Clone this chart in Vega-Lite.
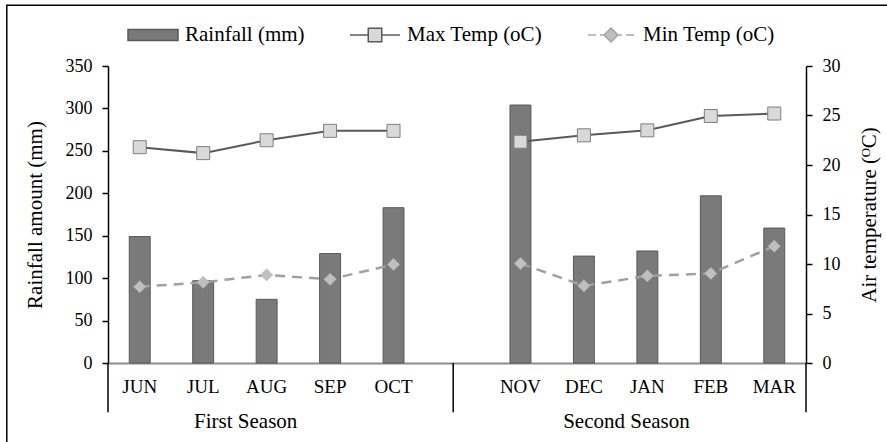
{
  "$schema": "https://vega.github.io/schema/vega-lite/v6.json",
  "width": 698,
  "height": 297,
  "autosize": "none",
  "padding": {"left": 108, "top": 66, "right": 81, "bottom": 79},
  "background": "white",
  "config": {
    "font": "Liberation Serif, Times New Roman, serif",
    "view": {"stroke": null},
    "axis": {"labelFont": "Liberation Serif, Times New Roman, serif", "titleFont": "Liberation Serif, Times New Roman, serif", "labelColor": "#000", "titleColor": "#000", "titleFontWeight": "normal", "grid": false, "domainColor": "#000", "tickColor": "#000"},
    "legend": {"labelFont": "Liberation Serif, Times New Roman, serif", "labelColor": "#000"},
    "text": {"font": "Liberation Serif, Times New Roman, serif"}
  },
  "datasets": {
    "months": [
      {"month": "JUN", "season": "First Season", "rain": 149, "tmax": 21.8, "tmin": 7.7},
      {"month": "JUL", "season": "First Season", "rain": 97, "tmax": 21.2, "tmin": 8.15},
      {"month": "AUG", "season": "First Season", "rain": 75, "tmax": 22.5, "tmin": 8.9},
      {"month": "SEP", "season": "First Season", "rain": 129, "tmax": 23.45, "tmin": 8.45},
      {"month": "OCT", "season": "First Season", "rain": 183, "tmax": 23.45, "tmin": 9.95},
      {"month": "NOV", "season": "Second Season", "rain": 304, "tmax": 22.35, "tmin": 10.05},
      {"month": "DEC", "season": "Second Season", "rain": 126, "tmax": 23.0, "tmin": 7.8},
      {"month": "JAN", "season": "Second Season", "rain": 132, "tmax": 23.5, "tmin": 8.8},
      {"month": "FEB", "season": "Second Season", "rain": 197, "tmax": 24.95, "tmin": 9.05},
      {"month": "MAR", "season": "Second Season", "rain": 159, "tmax": 25.2, "tmin": 11.8}
    ],
    "seasons": [
      {"season": "First Season", "anchor": "AUG"},
      {"season": "Second Season", "anchor": "JAN"}
    ],
    "series": [
      {"series": "Rainfall (mm)"},
      {"series": "Max Temp (oC)"},
      {"series": "Min Temp (oC)"}
    ]
  },
  "layer": [
    {
      "data": {"values": [{}]},
      "mark": {"type": "rect", "fill": null, "stroke": "#000", "strokeWidth": 1.5},
      "encoding": {
        "x": {"datum": -0.145, "type": "quantitative", "scale": {"domain": [0, 1], "nice": false, "zero": false}, "axis": null},
        "x2": {"datum": 1.2},
        "y": {"datum": 1.2044, "type": "quantitative", "scale": {"domain": [0, 1], "nice": false, "zero": false}, "axis": null},
        "y2": {"datum": -0.3}
      }
    },
    {
      "layer": [
        {
          "layer": [
            {
              "data": {"name": "months"},
              "mark": {"type": "bar", "width": {"band": 0.33}, "fill": "#7a7a7a", "stroke": "#595959", "strokeWidth": 1},
              "encoding": {
                "x": {"field": "month", "type": "nominal", "title": null,
                  "scale": {"domain": ["JUN", "JUL", "AUG", "SEP", "OCT", " ", "NOV", "DEC", "JAN", "FEB", "MAR"], "paddingInner": 0, "paddingOuter": 0},
                  "axis": {"title": null, "ticks": false, "tickSize": 0, "labelAngle": 0, "labelFontSize": 19, "labelPadding": 14, "domainColor": "#8c8c8c", "domainWidth": 2}},
                "y": {"field": "rain", "type": "quantitative",
                  "scale": {"domain": [0, 350], "nice": false},
                  "axis": {"orient": "left", "title": "Rainfall amount (mm)", "values": [0, 50, 100, 150, 200, 250, 300, 350], "titleFontSize": 21, "labelFontSize": 18, "tickSize": 6, "labelPadding": 10, "titlePadding": 20, "domainWidth": 1.5, "tickWidth": 1.5}}
              }
            },
            {
              "data": {"values": [{}]},
              "mark": {"type": "rule", "stroke": "#000", "strokeWidth": 1.5},
              "encoding": {
                "x": {"datum": "JUN", "type": "nominal", "bandPosition": 0, "title": null, "scale": {"domain": ["JUN", "JUL", "AUG", "SEP", "OCT", " ", "NOV", "DEC", "JAN", "FEB", "MAR"], "paddingInner": 0, "paddingOuter": 0}},
                "y": {"datum": 0, "type": "quantitative"},
                "y2": {"datum": -58}
              }
            },
            {
              "data": {"values": [{}]},
              "mark": {"type": "rule", "stroke": "#000", "strokeWidth": 1.5},
              "encoding": {
                "x": {"datum": " ", "type": "nominal", "bandPosition": 0.44, "title": null, "scale": {"domain": ["JUN", "JUL", "AUG", "SEP", "OCT", " ", "NOV", "DEC", "JAN", "FEB", "MAR"], "paddingInner": 0, "paddingOuter": 0}},
                "y": {"datum": 0, "type": "quantitative"},
                "y2": {"datum": -58}
              }
            },
            {
              "data": {"values": [{}]},
              "mark": {"type": "rule", "stroke": "#000", "strokeWidth": 1.5},
              "encoding": {
                "x": {"datum": "MAR", "type": "nominal", "bandPosition": 1, "title": null, "scale": {"domain": ["JUN", "JUL", "AUG", "SEP", "OCT", " ", "NOV", "DEC", "JAN", "FEB", "MAR"], "paddingInner": 0, "paddingOuter": 0}},
                "y": {"datum": 0, "type": "quantitative"},
                "y2": {"datum": -58}
              }
            },
            {
              "data": {"name": "seasons"},
              "mark": {"type": "text", "font": "Liberation Serif, Times New Roman, serif", "fontSize": 21, "color": "#000", "baseline": "middle", "align": "center"},
              "encoding": {
                "x": {"field": "anchor", "type": "nominal", "bandPosition": 0.17, "title": null, "scale": {"domain": ["JUN", "JUL", "AUG", "SEP", "OCT", " ", "NOV", "DEC", "JAN", "FEB", "MAR"], "paddingInner": 0, "paddingOuter": 0}},
                "y": {"datum": -70, "type": "quantitative"},
                "text": {"field": "season"}
              }
            }
          ]
        },
        {
          "data": {"name": "months"},
          "layer": [
            {
              "mark": {"type": "line", "stroke": "#595959", "strokeWidth": 2},
              "encoding": {
                "x": {"field": "month", "type": "nominal", "title": null, "scale": {"domain": ["JUN", "JUL", "AUG", "SEP", "OCT", " ", "NOV", "DEC", "JAN", "FEB", "MAR"], "paddingInner": 0, "paddingOuter": 0}},
                "y": {"field": "tmax", "type": "quantitative",
                  "scale": {"domain": [0, 30], "nice": false},
                  "axis": {"orient": "right", "title": "Air temperature (ᴼC)", "values": [0, 5, 10, 15, 20, 25, 30], "titleFontSize": 21, "labelFontSize": 18, "tickSize": 6, "labelPadding": 10, "titlePadding": 18, "titleAngle": 270, "titleBaseline": "top", "domainWidth": 1.5, "tickWidth": 1.5}},
                "detail": {"field": "season"},
                "order": {"value": null}
              }
            },
            {
              "mark": {"type": "line", "stroke": "#a0a0a0", "strokeWidth": 2.5, "strokeDash": [10, 7]},
              "encoding": {
                "x": {"field": "month", "type": "nominal", "title": null, "scale": {"domain": ["JUN", "JUL", "AUG", "SEP", "OCT", " ", "NOV", "DEC", "JAN", "FEB", "MAR"], "paddingInner": 0, "paddingOuter": 0}},
                "y": {"field": "tmin", "type": "quantitative"},
                "detail": {"field": "season"},
                "order": {"value": null}
              }
            },
            {
              "mark": {"type": "point", "shape": "square", "size": 169, "filled": true, "opacity": 1, "fill": "#d9d9d9", "stroke": "#7f7f7f", "strokeWidth": 1},
              "encoding": {
                "x": {"field": "month", "type": "nominal", "title": null, "scale": {"domain": ["JUN", "JUL", "AUG", "SEP", "OCT", " ", "NOV", "DEC", "JAN", "FEB", "MAR"], "paddingInner": 0, "paddingOuter": 0}},
                "y": {"field": "tmax", "type": "quantitative"}
              }
            },
            {
              "mark": {"type": "point", "shape": "diamond", "size": 150, "filled": true, "opacity": 1, "fill": "#bfbfbf", "stroke": "#b0b0b0", "strokeWidth": 0.5},
              "encoding": {
                "x": {"field": "month", "type": "nominal", "title": null, "scale": {"domain": ["JUN", "JUL", "AUG", "SEP", "OCT", " ", "NOV", "DEC", "JAN", "FEB", "MAR"], "paddingInner": 0, "paddingOuter": 0}},
                "y": {"field": "tmin", "type": "quantitative"}
              }
            },
            {
              "data": {"name": "series"},
              "mark": {"type": "point", "size": 0, "filled": true, "opacity": 1},
              "encoding": {
                "fill": {"field": "series", "type": "nominal",
                  "scale": {"domain": ["Rainfall (mm)", "Max Temp (oC)", "Min Temp (oC)"], "range": ["#7a7a7a", "#d9d9d9", "#bfbfbf"]},
                  "legend": {"title": null, "orient": "none", "legendX": 19, "legendY": -57, "direction": "horizontal", "symbolSize": 2500, "labelFontSize": 21, "labelOffset": 6, "columnPadding": 42, "padding": 0, "symbolStrokeWidth": 1.5, "symbolOpacity": 1}},
                "stroke": {"field": "series", "type": "nominal",
                  "scale": {"domain": ["Rainfall (mm)", "Max Temp (oC)", "Min Temp (oC)"], "range": ["#595959", "#595959", "#a6a6a6"]},
                  "legend": {"title": null, "orient": "none", "legendX": 19, "legendY": -57, "direction": "horizontal", "symbolSize": 2500, "labelFontSize": 21, "labelOffset": 6, "columnPadding": 42, "padding": 0, "symbolStrokeWidth": 1.5, "symbolOpacity": 1}},
                "shape": {"field": "series", "type": "nominal",
                  "scale": {"domain": ["Rainfall (mm)", "Max Temp (oC)", "Min Temp (oC)"], "range": ["M-1,-0.22H1V0.22H-1Z", "M-1,0H-0.27M0.27,0H1M-0.27,-0.27H0.27V0.27H-0.27Z", "M-0.92,0H-0.6M-0.44,0H-0.28M0.28,0H0.44M0.6,0H0.92M0,-0.28L0.28,0L0,0.28L-0.28,0Z"]},
                  "legend": {"title": null, "orient": "none", "legendX": 19, "legendY": -57, "direction": "horizontal", "symbolSize": 2500, "labelFontSize": 21, "labelOffset": 6, "columnPadding": 42, "padding": 0, "symbolStrokeWidth": 1.5, "symbolOpacity": 1}}
              }
            }
          ]
        }
      ],
      "resolve": {"scale": {"y": "independent"}}
    }
  ],
  "resolve": {"scale": {"x": "independent", "y": "independent"}}
}
